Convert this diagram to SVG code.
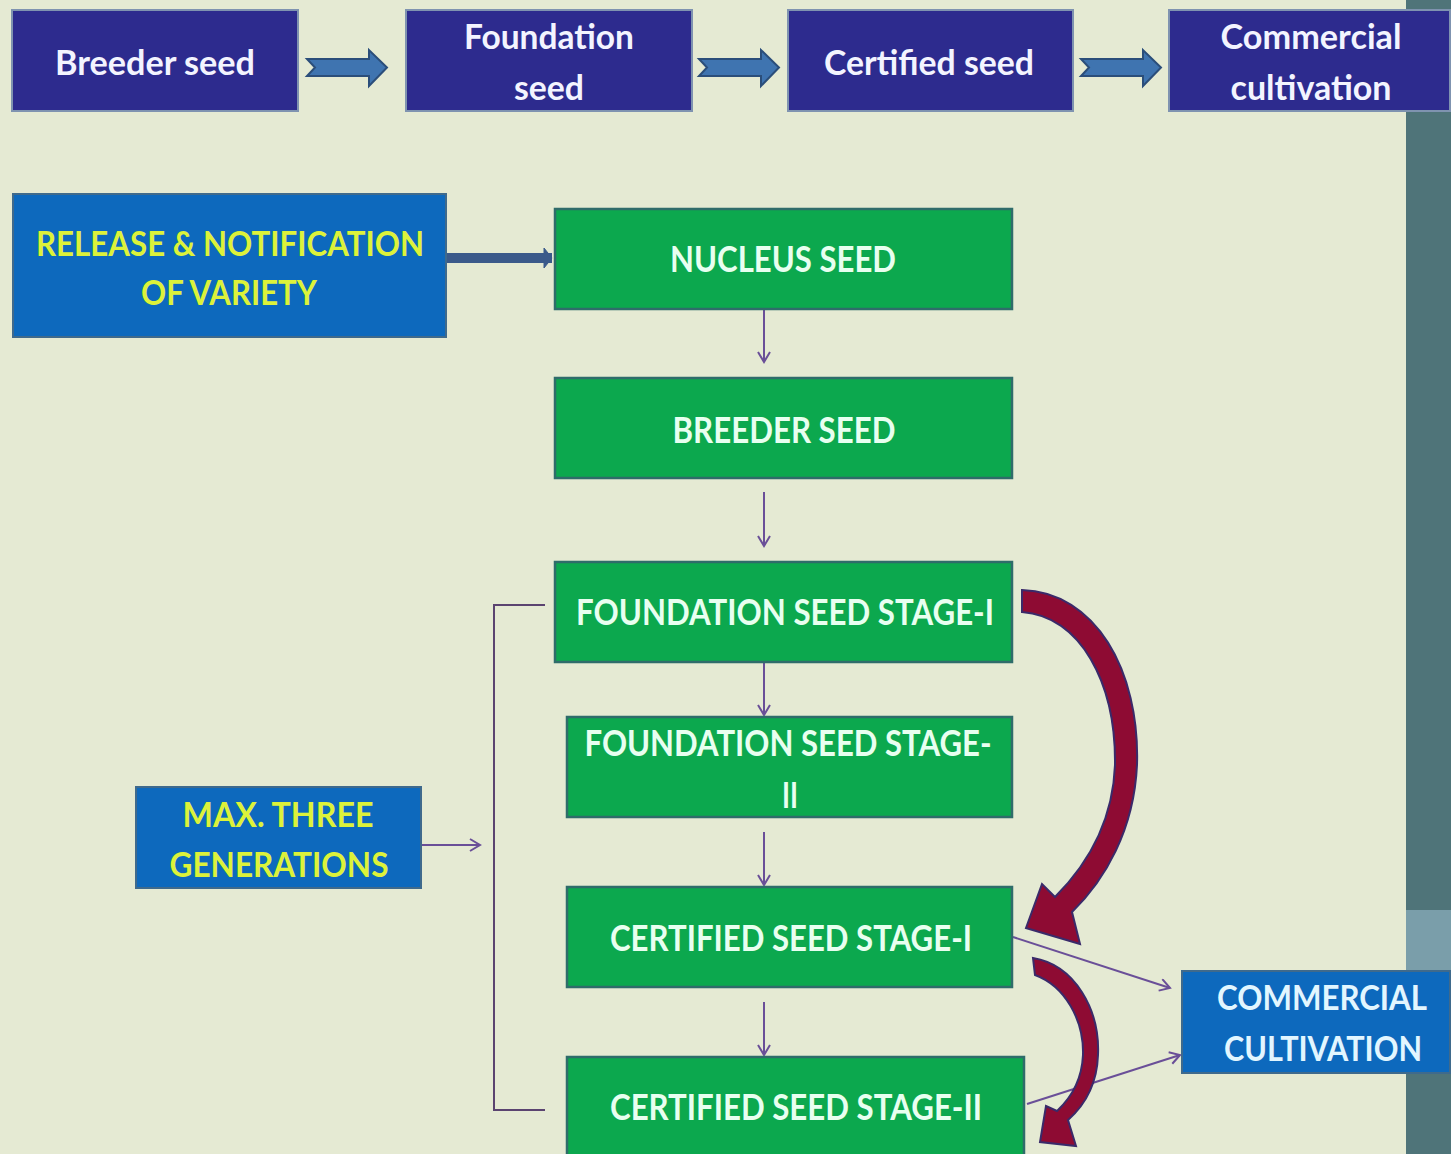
<svg xmlns="http://www.w3.org/2000/svg" width="1451" height="1154" viewBox="0 0 1451 1154">
<defs>
<style>
.bg{fill:#e5eAd3}
.navy{fill:#2d2b8e;stroke:#7f93b0;stroke-width:2}
.blue{fill:#0d69bd;stroke:#3f6a8c;stroke-width:2}
.green{fill:#0ca84e;stroke:#2f6c6a;stroke-width:2.5}
text{font-family:Lato,"Open Sans","Liberation Sans",sans-serif;font-weight:700;text-anchor:middle}
.tw{fill:#f3f4ff;font-size:34px}
.ty{fill:#dcf23a;font-size:35px}
.tg{fill:#e8fff0;font-size:36px}
.tc{fill:#e2f6ff;font-size:35px}
.thin{fill:none;stroke:#6a4f98;stroke-width:2}
.blk{fill:#3f74b0;stroke:#2b4e7a;stroke-width:2}
.red{fill:#8e0b33;stroke:#3a2a6a;stroke-width:2}
</style>
<marker id="v" markerWidth="16" markerHeight="16" refX="12" refY="7" orient="auto" markerUnits="userSpaceOnUse">
<path d="M2,1 L12,7 L2,13" fill="none" stroke="#6a4f98" stroke-width="2"/>
</marker>
<marker id="vb" markerWidth="14" markerHeight="24" refX="10" refY="12" orient="auto" markerUnits="userSpaceOnUse">
<path d="M2,2 L10,12 L2,22 Z" fill="#3b5a8a" stroke="#3b5a8a" stroke-width="1"/>
</marker>
</defs>
<rect class="bg" x="0" y="0" width="1451" height="1154"/>
<g id="side-strip">
<rect x="1406" y="0" width="45" height="1154" fill="#4f7479"/>
<rect x="1406" y="910" width="45" height="62" fill="#7a9eaa"/>
</g>

<g id="connectors">
<path class="blk" d="M307,59 L369,59 L369,50 L387,67.5 L369,86 L369,76 L307,76 L315,67.5 Z"/>
<path class="blk" d="M699,59 L761,59 L761,50 L779,67.5 L761,86 L761,76 L699,76 L707,67.5 Z"/>
<path class="blk" d="M1081,59 L1143,59 L1143,50 L1161,67.5 L1143,86 L1143,76 L1081,76 L1089,67.5 Z"/>
<line x1="446" y1="258" x2="552" y2="258" stroke="#3b5a8a" stroke-width="10" marker-end="url(#vb)"/>
<line class="thin" x1="764" y1="310" x2="764" y2="362" marker-end="url(#v)"/>
<line class="thin" x1="764" y1="492" x2="764" y2="546" marker-end="url(#v)"/>
<line class="thin" x1="764" y1="663" x2="764" y2="715" marker-end="url(#v)"/>
<line class="thin" x1="764" y1="832" x2="764" y2="885" marker-end="url(#v)"/>
<line class="thin" x1="764" y1="1002" x2="764" y2="1055" marker-end="url(#v)"/>
<path d="M545,605 L494,605 L494,1110 L545,1110" fill="none" stroke="#5b4470" stroke-width="2"/>
<line class="thin" x1="421" y1="845" x2="480" y2="845" marker-end="url(#v)"/>
<line class="thin" x1="1013" y1="937" x2="1170" y2="988" marker-end="url(#v)"/>
<line class="thin" x1="1027" y1="1104" x2="1180" y2="1055" marker-end="url(#v)"/>
<path class="red" d="M1022,590 C1095,592 1140,670 1137,765 C1134,830 1105,880 1072,912 L1080,944 L1026,928 L1042,884 L1055,897 C1090,862 1113,820 1115,765 C1116,682 1080,616 1022,612 Z"/>
<path class="red" d="M1033,958 C1075,965 1100,1010 1098,1055 C1097,1085 1085,1105 1068,1120 L1076,1146 L1040,1142 L1046,1106 L1057,1111 C1072,1097 1082,1078 1083,1055 C1084,1020 1065,986 1035,975 Z"/>
</g>

<g id="n-breeder-top">
<rect class="navy" x="12" y="10" width="286" height="101"/>
<text class="tw" x="155" y="75" textLength="200" lengthAdjust="spacingAndGlyphs">Breeder seed</text>
</g>
<g id="n-foundation-top">
<rect class="navy" x="406" y="10" width="286" height="101"/>
<text class="tw" x="549" y="49" textLength="170" lengthAdjust="spacingAndGlyphs">Foundation</text>
<text class="tw" x="549" y="100" textLength="70" lengthAdjust="spacingAndGlyphs">seed</text>
</g>
<g id="n-certified-top">
<rect class="navy" x="788" y="10" width="285" height="101"/>
<text class="tw" x="929" y="75" textLength="210" lengthAdjust="spacingAndGlyphs">Certified seed</text>
</g>
<g id="n-commercial-top">
<rect class="navy" x="1169" y="10" width="281" height="101"/>
<text class="tw" x="1311" y="49" textLength="181" lengthAdjust="spacingAndGlyphs">Commercial</text>
<text class="tw" x="1311" y="100" textLength="161" lengthAdjust="spacingAndGlyphs">cultivation</text>
</g>

<g id="n-release">
<rect class="blue" x="13" y="194" width="433" height="143"/>
<text class="ty" x="230" y="256" textLength="388" lengthAdjust="spacingAndGlyphs">RELEASE &amp; NOTIFICATION</text>
<text class="ty" x="229" y="305" textLength="176" lengthAdjust="spacingAndGlyphs">OF VARIETY</text>
</g>
<g id="n-nucleus">
<rect class="green" x="555" y="209" width="457" height="100"/>
<text class="tg" x="783" y="272" textLength="226" lengthAdjust="spacingAndGlyphs">NUCLEUS SEED</text>
</g>
<g id="n-breeder">
<rect class="green" x="555" y="378" width="457" height="100"/>
<text class="tg" x="784" y="443" textLength="223" lengthAdjust="spacingAndGlyphs">BREEDER SEED</text>
</g>
<g id="n-fs1">
<rect class="green" x="555" y="562" width="457" height="100"/>
<text class="tg" x="785" y="625" textLength="418" lengthAdjust="spacingAndGlyphs">FOUNDATION SEED STAGE-I</text>
</g>
<g id="n-fs2">
<rect class="green" x="567" y="717" width="445" height="100"/>
<text class="tg" x="788" y="756" textLength="407" lengthAdjust="spacingAndGlyphs">FOUNDATION SEED STAGE-</text>
<text class="tg" x="790" y="808" textLength="16" lengthAdjust="spacingAndGlyphs">II</text>
</g>
<g id="n-cs1">
<rect class="green" x="567" y="887" width="445" height="100"/>
<text class="tg" x="791" y="951" textLength="362" lengthAdjust="spacingAndGlyphs">CERTIFIED SEED STAGE-I</text>
</g>
<g id="n-cs2">
<rect class="green" x="567" y="1057" width="457" height="110"/>
<text class="tg" x="796" y="1120" textLength="372" lengthAdjust="spacingAndGlyphs">CERTIFIED SEED STAGE-II</text>
</g>
<g id="n-max">
<rect class="blue" x="136" y="787" width="285" height="101"/>
<text class="ty" x="278" y="827" textLength="191" lengthAdjust="spacingAndGlyphs">MAX. THREE</text>
<text class="ty" x="279" y="877" textLength="219" lengthAdjust="spacingAndGlyphs">GENERATIONS</text>
</g>
<g id="n-commercial">
<rect class="blue" x="1182" y="971" width="268" height="102"/>
<text class="tc" x="1322" y="1010" textLength="210" lengthAdjust="spacingAndGlyphs">COMMERCIAL</text>
<text class="tc" x="1323" y="1061" textLength="198" lengthAdjust="spacingAndGlyphs">CULTIVATION</text>
</g>
</svg>
